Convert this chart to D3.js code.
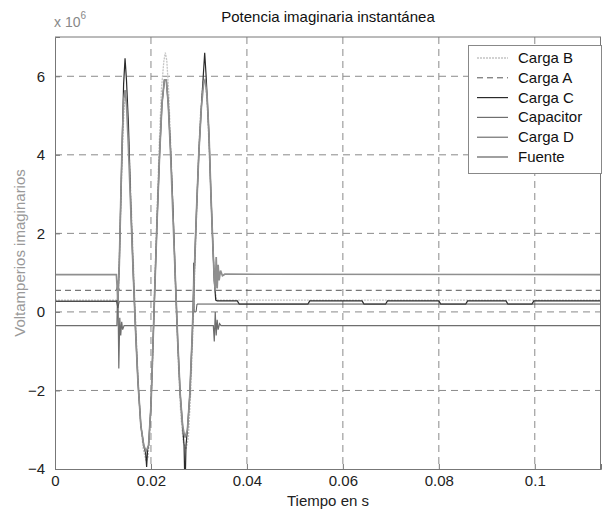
<!DOCTYPE html>
<html>
<head>
<meta charset="utf-8">
<script src="https://cdn.jsdelivr.net/npm/d3@7"></script>
<style>
  body { margin: 0; background: #fff; }
  svg { font-family: "Liberation Sans", Arial, sans-serif; }
</style>
</head>
<body>
<div id="chart"></div>
<script>
// values in units of 1e6 var, time in s
const cargaB = [[0,0.3],[0.0128,0.3],[0.0132,0.4],[0.0136,2.2],[0.014,4.0],[0.0144,5.2],[0.0147,5.5],[0.015,5.2],[0.0155,4.0],[0.016,2.4],[0.0166,0.4],[0.0172,-1.4],[0.0178,-2.8],[0.0184,-3.5],[0.019,-3.8],[0.0194,-3.7],[0.0198,-3.0],[0.0203,-1.4],[0.0207,0.3],[0.0212,2.3],[0.0217,4.2],[0.0222,5.7],[0.0227,6.4],[0.023,6.6],[0.0233,6.4],[0.0237,5.6],[0.0242,4.0],[0.0247,2.2],[0.0252,0.3],[0.0257,-1.3],[0.0262,-2.6],[0.0267,-3.3],[0.0273,-3.5],[0.0278,-3.2],[0.0283,-2.0],[0.0288,-0.3],[0.0293,1.7],[0.0298,3.6],[0.0303,5.0],[0.0308,5.8],[0.0311,5.95],[0.0314,5.85],[0.0318,5.1],[0.0323,3.6],[0.0328,2.0],[0.0333,0.6],[0.0337,0.3],[0.1138,0.3]];

const cargaA = [[0,0.55],[0.0128,0.55],[0.0131,0.7],[0.0134,0.55],[0.1138,0.55]];

const cargaC = [[0,0.27],[0.0128,0.27],[0.0131,0.3],[0.0134,1.2],[0.0137,2.8],[0.014,4.3],[0.0143,5.8],[0.0146,6.46],[0.0149,5.9],[0.0153,4.8],[0.0158,2.7],[0.0163,1.0],[0.0168,-0.5],[0.0173,-1.8],[0.0179,-2.9],[0.0185,-3.4],[0.0189,-3.6],[0.0191,-3.95],[0.0193,-3.5],[0.0195,-3.4],[0.02,-2.4],[0.0204,-0.9],[0.0208,0.6],[0.0213,2.4],[0.0218,4.0],[0.0223,5.3],[0.0228,5.9],[0.0232,5.9],[0.0236,5.3],[0.0241,4.1],[0.0246,2.6],[0.0251,0.8],[0.0256,-0.8],[0.0261,-2.1],[0.0266,-2.9],[0.0269,-3.4],[0.027,-4.0],[0.0272,-4.0],[0.0273,-3.4],[0.0276,-3.0],[0.0281,-2.1],[0.0286,-0.6],[0.029,0.9],[0.0295,2.6],[0.03,4.1],[0.0305,5.2],[0.0309,6.0],[0.0312,6.6],[0.0315,6.0],[0.0317,5.5],[0.0321,4.5],[0.0325,3.0],[0.0329,1.7],[0.0332,0.8],[0.0335,0.3],[0.0338,0.28],[0.038,0.28],[0.0384,0.2],[0.0527,0.2],[0.0531,0.28],[0.064,0.28],[0.0644,0.2],[0.0689,0.2],[0.0693,0.28],[0.08,0.28],[0.0804,0.2],[0.0856,0.2],[0.086,0.28],[0.094,0.28],[0.0944,0.2],[0.0994,0.2],[0.0998,0.28],[0.1138,0.28]];

const capacitor = [[0,-0.35],[0.0129,-0.35],[0.0131,0.8],[0.0133,-1.44],[0.0135,-0.15],[0.0137,-0.6],[0.0139,-0.25],[0.0141,-0.45],[0.0144,-0.35],[0.033,-0.35],[0.0332,-0.75],[0.0334,0.0],[0.0336,-0.6],[0.0338,-0.2],[0.034,-0.45],[0.0343,-0.3],[0.0346,-0.35],[0.1138,-0.35]];

const cargaD = [[0,0.27],[0.0128,0.27],[0.0131,0.1],[0.0134,0.27],[0.0288,0.27],[0.0289,1.25],[0.029,0.0],[0.0294,0.0],[0.0296,0.2],[0.1138,0.2]];

const fuente = [[0,0.95],[0.0128,0.95],[0.0131,0.3],[0.0134,1.2],[0.0137,2.8],[0.014,4.3],[0.0143,5.4],[0.0146,5.65],[0.0149,5.3],[0.0153,4.2],[0.0158,2.6],[0.0163,1.0],[0.0168,-0.5],[0.0173,-1.8],[0.0179,-2.9],[0.0185,-3.4],[0.019,-3.55],[0.0195,-3.4],[0.02,-2.4],[0.0204,-0.9],[0.0208,0.6],[0.0213,2.4],[0.0218,4.0],[0.0223,5.3],[0.0228,5.9],[0.0232,5.9],[0.0236,5.3],[0.0241,4.0],[0.0246,2.4],[0.0251,0.8],[0.0256,-0.8],[0.0261,-2.1],[0.0266,-2.9],[0.0271,-3.2],[0.0276,-3.0],[0.0281,-2.1],[0.0286,-0.6],[0.029,0.9],[0.0295,2.6],[0.03,4.1],[0.0305,5.2],[0.031,5.85],[0.0313,5.9],[0.0317,5.5],[0.0321,4.5],[0.0325,3.0],[0.0329,1.7],[0.0332,0.8],[0.0334,0.55],[0.0336,1.4],[0.0338,0.6],[0.034,1.2],[0.0342,0.8],[0.0345,1.05],[0.0349,0.92],[0.0354,0.96],[0.1138,0.95]];

const seriesNames = ["Carga B", "Carga A", "Carga C", "Capacitor", "Carga D", "Fuente"];
const seriesData = [cargaB, cargaA, cargaC, capacitor, cargaD, fuente];
const xTicks = [0, 0.02, 0.04, 0.06, 0.08, 0.1];
const yTicks = [-4, -2, 0, 2, 4, 6];

const styles = {
  "Carga B": { color: "#c4c4c4", dash: "2,1", w: 1.3 },
  "Carga A": { color: "#555", dash: "6,4", w: 1 },
  "Carga C": { color: "#2a2a2a", dash: null, w: 1.2 },
  "Capacitor": { color: "#6e6e6e", dash: null, w: 1.2 },
  "Carga D": { color: "#555", dash: null, w: 1 },
  "Fuente": { color: "#8f8f8f", dash: null, w: 1.7 }
};

const width = 602;
const height = 514;
const margin = { top: 37, right: 1, bottom: 45, left: 55 };

const svg = d3.select("#chart").append("svg")
  .attr("width", width)
  .attr("height", height);

svg.append("rect").attr("width", width).attr("height", height).attr("fill", "#fff");

const x = d3.scaleLinear()
  .domain([0, 0.1138])
  .range([margin.left, width - margin.right]);

const y = d3.scaleLinear()
  .domain([-4, 7])
  .range([height - margin.bottom, margin.top]);

// Grid
svg.append("g")
  .selectAll("line")
  .data(xTicks.filter((d) => d > 0))
  .enter()
  .append("line")
  .attr("x1", (d) => x(d)).attr("x2", (d) => x(d))
  .attr("y1", y(7)).attr("y2", y(-4))
  .attr("stroke", "#8a8a8a")
  .attr("stroke-dasharray", "7,5");

svg.append("g")
  .selectAll("line")
  .data(yTicks.filter((d) => d > -4))
  .enter()
  .append("line")
  .attr("x1", x(0)).attr("x2", x(0.1138))
  .attr("y1", (d) => y(d)).attr("y2", (d) => y(d))
  .attr("stroke", "#8a8a8a")
  .attr("stroke-dasharray", "7,5");

// Series
const line = d3.line()
  .x((d) => x(d[0]))
  .y((d) => y(d[1]));

const plot = svg.append("g");
seriesData.forEach((data, i) => {
  const s = styles[seriesNames[i]];
  plot.append("path")
    .datum(data)
    .attr("d", line)
    .attr("fill", "none")
    .attr("stroke", s.color)
    .attr("stroke-width", s.w)
    .attr("stroke-dasharray", s.dash);
});

// Axes
const xAxis = svg.append("g")
  .attr("transform", `translate(0,${y(-4)})`)
  .call(d3.axisBottom(x).tickValues(xTicks).tickSize(-5).tickPadding(6)
    .tickFormat((d) => (d === 0 ? "0" : String(+d.toFixed(2)))));
const yAxis = svg.append("g")
  .attr("transform", `translate(${x(0)},0)`)
  .call(d3.axisLeft(y).tickValues(yTicks).tickSize(-5).tickPadding(10));

[xAxis, yAxis].forEach((g) => {
  g.select(".domain").attr("stroke", "#777");
  g.selectAll(".tick line").attr("stroke", "#777");
  g.selectAll("text")
    .attr("font-size", "15px")
    .attr("fill", "#222")
    .attr("font-family", "Liberation Sans, Arial, sans-serif");
});

// box top and right
svg.append("line")
  .attr("x1", x(0)).attr("x2", x(0.1138))
  .attr("y1", y(7)).attr("y2", y(7))
  .attr("stroke", "#777");
svg.append("line")
  .attr("x1", x(0.1138) - 0.5).attr("x2", x(0.1138) - 0.5)
  .attr("y1", y(7)).attr("y2", y(-4))
  .attr("stroke", "#777");

// Titles
svg.append("text")
  .attr("x", (x(0) + x(0.1138)) / 2)
  .attr("y", 22)
  .attr("text-anchor", "middle")
  .attr("font-size", "15px")
  .attr("fill", "#111")
  .text("Potencia imaginaria instantánea");

const expo = svg.append("text")
  .attr("x", 54)
  .attr("y", 27)
  .attr("font-size", "14px")
  .attr("fill", "#888");
expo.append("tspan").text("x 10");
expo.append("tspan").attr("dy", -8).attr("font-size", "10px").text("6");

svg.append("text")
  .attr("x", (x(0) + x(0.1138)) / 2)
  .attr("y", 506)
  .attr("text-anchor", "middle")
  .attr("font-size", "15px")
  .attr("fill", "#222")
  .text("Tiempo en s");

svg.append("text")
  .attr("transform", `translate(25,${(y(7) + y(-4)) / 2}) rotate(-90)`)
  .attr("text-anchor", "middle")
  .attr("font-size", "15px")
  .attr("fill", "#999")
  .text("Voltamperios imaginarios");

// Legend
const legend = svg.append("g");
legend.append("rect")
  .attr("x", 468.5).attr("y", 45.5)
  .attr("width", 133).attr("height", 128)
  .attr("fill", "#fff")
  .attr("stroke", "#888");

seriesNames.forEach((name, i) => {
  const s = styles[name];
  const ly = 58 + i * 19.8;
  legend.append("line")
    .attr("x1", 477).attr("x2", 508)
    .attr("y1", ly).attr("y2", ly)
    .attr("stroke", s.color)
    .attr("stroke-width", s.w)
    .attr("stroke-dasharray", s.dash);
  legend.append("text")
    .attr("x", 518)
    .attr("y", ly + 5)
    .attr("font-size", "15px")
    .attr("fill", "#111")
    .text(name);
});
</script>
</body>
</html>
